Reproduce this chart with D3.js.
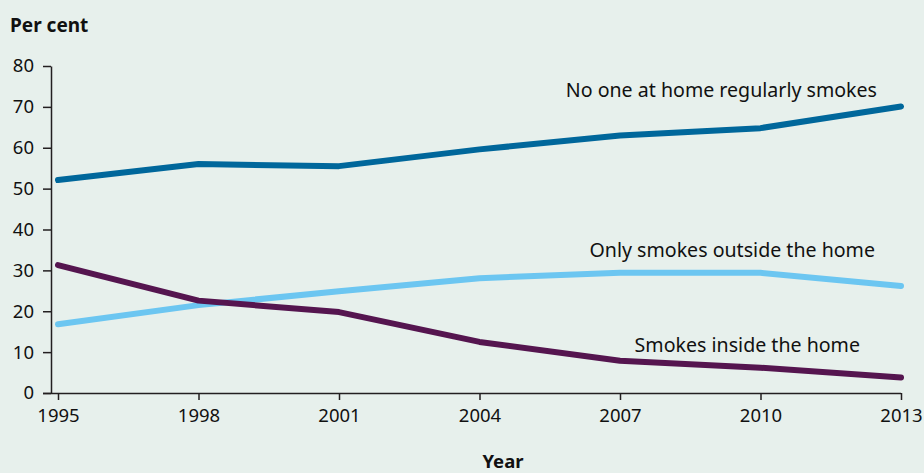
<!DOCTYPE html>
<html><head><meta charset="utf-8">
<script src="https://cdn.jsdelivr.net/npm/d3@7"></script>
<style>
body{margin:0;background:#e7f0ec;}
svg{display:block;font-family:"Noto Sans",sans-serif;}
</style></head>
<body><svg id="c" width="924" height="473"></svg>
<script>
const years = [1995, 1998, 2001, 2004, 2007, 2010, 2013];
const noOne = [52.1, 56.0, 55.5, 59.6, 63.0, 64.8, 70.1];
const outside = [16.8, 21.5, 24.9, 28.1, 29.4, 29.4, 26.2];
const inside = [31.3, 22.6, 19.8, 12.5, 7.9, 6.2, 3.8];
const yTicks = [0, 10, 20, 30, 40, 50, 60, 70, 80];
const seriesNames = ["No one at home regularly smokes", "Only smokes outside the home", "Smokes inside the home"];
const colors = ["#00679b", "#6cc6f1", "#55154f"];

const svg = d3.select("#c");
svg.append("rect").attr("width",924).attr("height",473).attr("fill","#e7f0ec");
const x = d3.scalePoint().domain(years).range([58, 901]);
const y = d3.scaleLinear().domain([0, 80]).range([393, 66]);

const yAxis = svg.append("g").attr("transform","translate(51,0)")
  .call(d3.axisLeft(y).tickValues(yTicks).tickSize(8).tickPadding(9).tickSizeOuter(0));
const xAxis = svg.append("g").attr("transform","translate(0,393)")
  .call(d3.axisBottom(x).tickSize(7).tickPadding(9));
xAxis.select(".domain").attr("d","M43,0.5H901");
[yAxis,xAxis].forEach(a=>{
  a.selectAll("path,line").attr("stroke","#231f20").attr("stroke-width",1.5);
  a.selectAll("text").attr("font-size",18.5).attr("fill","#111").attr("font-family","Noto Sans");
});

const line = d3.line().x((d,i)=>x(years[i])).y(d=>y(d));
[noOne, outside, inside].forEach((s,k)=>{
  svg.append("path").attr("d", line(s)).attr("fill","none")
    .attr("stroke", colors[k]).attr("stroke-width",6)
    .attr("stroke-linecap","round").attr("stroke-linejoin","round");
});

const labelPos = [[877, 97],[875, 257],[860, 352]];
seriesNames.forEach((n,k)=>{
  svg.append("text").attr("x",labelPos[k][0]).attr("y",labelPos[k][1])
    .attr("text-anchor","end").attr("font-size",19.6).attr("fill","#111").text(n);
});
svg.append("text").attr("x",10).attr("y",32).attr("font-weight","bold").attr("font-size",19).attr("fill","#111").text("Per cent");
svg.append("text").attr("x",503).attr("y",468).attr("text-anchor","middle").attr("font-weight","bold").attr("font-size",18.5).attr("fill","#111").text("Year");
</script></body></html>
